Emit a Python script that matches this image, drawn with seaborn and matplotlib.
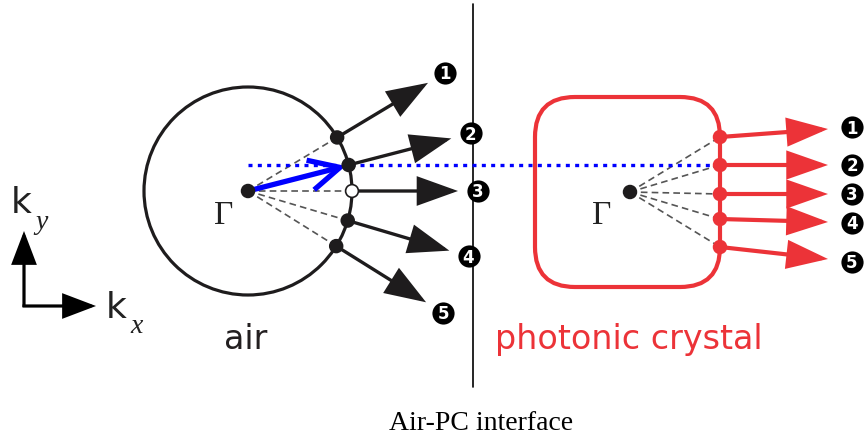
import numpy as np
import pandas as pd
import seaborn as sns
import matplotlib.pyplot as plt
from matplotlib.patches import Circle, FancyBboxPatch

sns.set_theme(style="white")
plt.rcParams["font.family"] = ["DejaVu Sans"]

# ---- diagram data (pixel-like k-space canvas, y grows downward) ----
mode_labels = ["1", "2", "3", "4", "5"]

# air: circular equi-frequency contour
air_gamma = (248, 192)
air_radius = 104
air_angles_deg = [31, 14.5, 0, -16.5, -32]     # wave-vector directions of modes 1..5
air_group_len = 106                            # length of group-velocity arrows

# photonic crystal: rounded-square contour
pc_gamma = (630, 193)
pc_box = (535, 98, 185, 190)                   # left, top, width, height
pc_corner = 40
pc_edge_kx = 720
pc_mode_ky = [138, 166, 195, 220, 248]
pc_tip_kx = 828
pc_tip_ky = [130, 166, 195, 223, 260]

interface_x = 473
kpar_y = 166                                   # conserved parallel wave-vector

BLACK = "#1e1c1d"
RED = "#ec3338"
GRAY = "#555555"
BLUE = "#0000ff"

fig = plt.figure(figsize=(8.66, 4.39), dpi=100)
ax = fig.add_axes([0, 0, 1, 1])


def arrow(p0, p1, color, lw, hl=1.2, hw=0.42, style="-|>", z=3):
    ax.annotate("", xy=p1, xytext=p0,
                arrowprops=dict(arrowstyle=f"{style},head_length={hl},head_width={hw}",
                                lw=lw, color=color, mutation_scale=20,
                                shrinkA=0, shrinkB=0, joinstyle="miter",
                                capstyle="butt"), zorder=z)


# wave-vector geometry
ang = np.radians(air_angles_deg)
ux, uy = np.cos(ang), -np.sin(ang)
air_px = air_gamma[0] + air_radius * ux
air_py = air_gamma[1] + air_radius * uy
tip_x = air_gamma[0] + (air_radius + air_group_len) * ux
tip_y = air_gamma[1] + (air_radius + air_group_len) * uy
lab_air_x = tip_x + 20 * ux
lab_air_y = tip_y + 20 * uy
pdx = pc_tip_kx - pc_edge_kx
pdy = np.array(pc_tip_ky) - np.array(pc_mode_ky)
pn = np.hypot(pdx, pdy)
lab_pc_x = pc_tip_kx + 24 * pdx / pn
lab_pc_y = np.array(pc_tip_ky) + 24 * pdy / pn

# mode points and Gamma points
pts = pd.DataFrame({
    "kx": list(air_px) + [pc_edge_kx] * 5 + [air_gamma[0], pc_gamma[0]],
    "ky": list(air_py) + pc_mode_ky + [air_gamma[1], pc_gamma[1]],
    "kind": ["air"] * 5 + ["pc"] * 5 + ["gamma"] * 2,
})
pts.loc[2, "kind"] = "open"
sns.scatterplot(data=pts, x="kx", y="ky", hue="kind",
                palette={"air": BLACK, "pc": RED, "gamma": BLACK, "open": "white"},
                s=85, edgecolor=BLACK, linewidth=1.2, legend=False, ax=ax, zorder=6)
ax.collections[-1].set_edgecolors([BLACK] * 5 + [RED] * 5 + [BLACK] * 2)

# circled mode numbers
badges = pd.DataFrame({"x": list(lab_air_x) + list(lab_pc_x),
                       "y": list(lab_air_y) + list(lab_pc_y)})
sns.scatterplot(data=badges, x="x", y="y", color="black", s=255, linewidth=0,
                legend=False, ax=ax, zorder=7)
for i in range(5):
    for bx, by in [(lab_air_x[i], lab_air_y[i]), (lab_pc_x[i], lab_pc_y[i])]:
        ax.text(bx, by + 0.5, mode_labels[i], fontsize=12, fontweight="bold",
                ha="center", va="center", color="white", zorder=8)

ax.set_xlim(0, 866)
ax.set_ylim(439, 0)
ax.axis("off")

# interface
ax.plot([interface_x, interface_x], [5, 388], color="black", lw=1.2, zorder=1)

# ---- air side ----
ax.add_patch(Circle(air_gamma, air_radius, fill=False, lw=2.3, color=BLACK, zorder=2))
for i in range(5):
    ax.plot([air_gamma[0], air_px[i]], [air_gamma[1], air_py[i]], color=GRAY,
            lw=1.2, ls=(0, (4, 2.5)), zorder=2)
    arrow((air_px[i], air_py[i]), (tip_x[i], tip_y[i]), BLACK, 2.4, hl=1.25, hw=0.45)

# ---- photonic crystal side ----
ax.add_patch(FancyBboxPatch(pc_box[:2], pc_box[2], pc_box[3],
                            boxstyle=f"round,pad=0,rounding_size={pc_corner}",
                            fill=False, lw=3, ec=RED, zorder=2))
for i in range(5):
    ax.plot([pc_gamma[0], pc_edge_kx], [pc_gamma[1], pc_mode_ky[i]], color=GRAY,
            lw=1.2, ls=(0, (4, 2.5)), zorder=2)
    arrow((pc_edge_kx, pc_mode_ky[i]), (pc_tip_kx, pc_tip_ky[i]), RED, 3)

# conserved k-parallel and incident wave-vector
ax.plot([air_gamma[0], pc_edge_kx + 5], [kpar_y, kpar_y], color=BLUE, lw=2.4,
        ls=(0, (1.2, 1.6)), zorder=4)
arrow(air_gamma, (air_px[1] - 3, air_py[1] + 1), BLUE, 3.8, hl=1.1, hw=0.55,
      style="->", z=5)

# Gamma labels
for gx, gy in [(224, 216), (602, 216)]:
    ax.text(gx, gy, "\u0393", fontsize=24, family="Liberation Serif",
            ha="center", va="center", color="#222222")

# region names
ax.text(246, 340, "air", fontsize=24, ha="center", va="center", color="#231f20")
ax.text(629, 340, "photonic crystal", fontsize=24, ha="center", va="center", color=RED)

# k-space axes
arrow((24, 308), (24, 232), "black", 2.3, hl=1.0, hw=0.38)
arrow((22.5, 307), (96, 307), "black", 2.3, hl=1.0, hw=0.38)
ax.text(11, 213, "k", fontsize=26, ha="left", va="baseline", color="#222222")
ax.text(35, 229, "y", fontsize=20, family="Liberation Serif", style="italic",
        ha="left", va="baseline", color="#222222")
ax.text(106, 318, "k", fontsize=26, ha="left", va="baseline", color="#222222")
ax.text(130, 333, "x", fontsize=20, family="Liberation Serif", style="italic",
        ha="left", va="baseline", color="#222222")

# caption
ax.text(481, 424, "Air-PC interface", fontsize=20, family="Liberation Serif",
        ha="center", va="center", color="black")

fig.savefig("out.png", dpi=100)
